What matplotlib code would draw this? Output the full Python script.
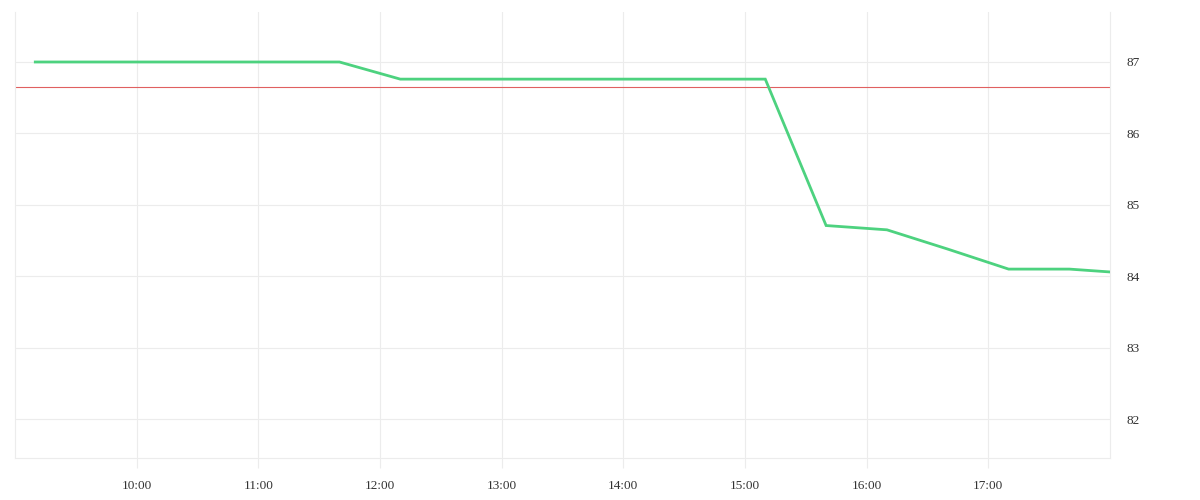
import matplotlib
matplotlib.use("Agg")
import matplotlib.pyplot as plt
import matplotlib.dates as mdates
from datetime import datetime

times = ["09:10", "09:40", "10:10", "10:40", "11:10", "11:40", "12:10", "12:40",
         "13:10", "13:40", "14:10", "14:40", "15:10", "15:40", "16:10", "16:40",
         "17:10", "17:40", "18:00"]
values = [87.0, 87.0, 87.0, 87.0, 87.0, 87.0, 86.76, 86.76,
          86.76, 86.76, 86.76, 86.76, 86.76, 84.71, 84.65, 84.38,
          84.10, 84.10, 84.06]
ref_level = 86.65
y_ticks = [82, 83, 84, 85, 86, 87]
x_ticks = ["10:00", "11:00", "12:00", "13:00", "14:00", "15:00", "16:00", "17:00"]

def to_dt(s):
    h, m = s.split(":")
    return datetime(2024, 1, 1, int(h), int(m))

xs = [to_dt(t) for t in times]

fig = plt.figure(figsize=(12, 5), dpi=100)
ax = fig.add_axes([15/1200, 1-458/500, (1110-15)/1200, (458-12)/500])

ax.plot(xs, values, color="#4dd27f", lw=2.0, solid_joinstyle="miter", zorder=3)
ax.axhline(ref_level, color="#e06060", lw=0.8, zorder=2)

ax.set_xlim(to_dt("09:00"), to_dt("18:00"))
ax.set_ylim(81.455, 87.70)

ax.set_xticks([to_dt(t) for t in x_ticks])
ax.set_xticklabels(x_ticks)
ax.set_yticks(y_ticks)
ax.set_yticklabels([str(v) for v in y_ticks])
ax.yaxis.tick_right()

grid_c = "#ececec"
ax.grid(True, color=grid_c, lw=0.8)
ax.set_axisbelow(True)
for s in ["top"]:
    ax.spines[s].set_visible(False)
for s in ["left", "right", "bottom"]:
    ax.spines[s].set_color(grid_c)
    ax.spines[s].set_linewidth(0.8)

ax.tick_params(axis="x", length=7, color=grid_c, width=0.8, pad=9,
               labelsize=9.5, labelcolor="#333333")
ax.tick_params(axis="y", length=0, pad=12, labelsize=9.5, labelcolor="#333333")
for lab in ax.get_xticklabels() + ax.get_yticklabels():
    lab.set_family("Liberation Serif")

fig.savefig("out.png", dpi=100)
